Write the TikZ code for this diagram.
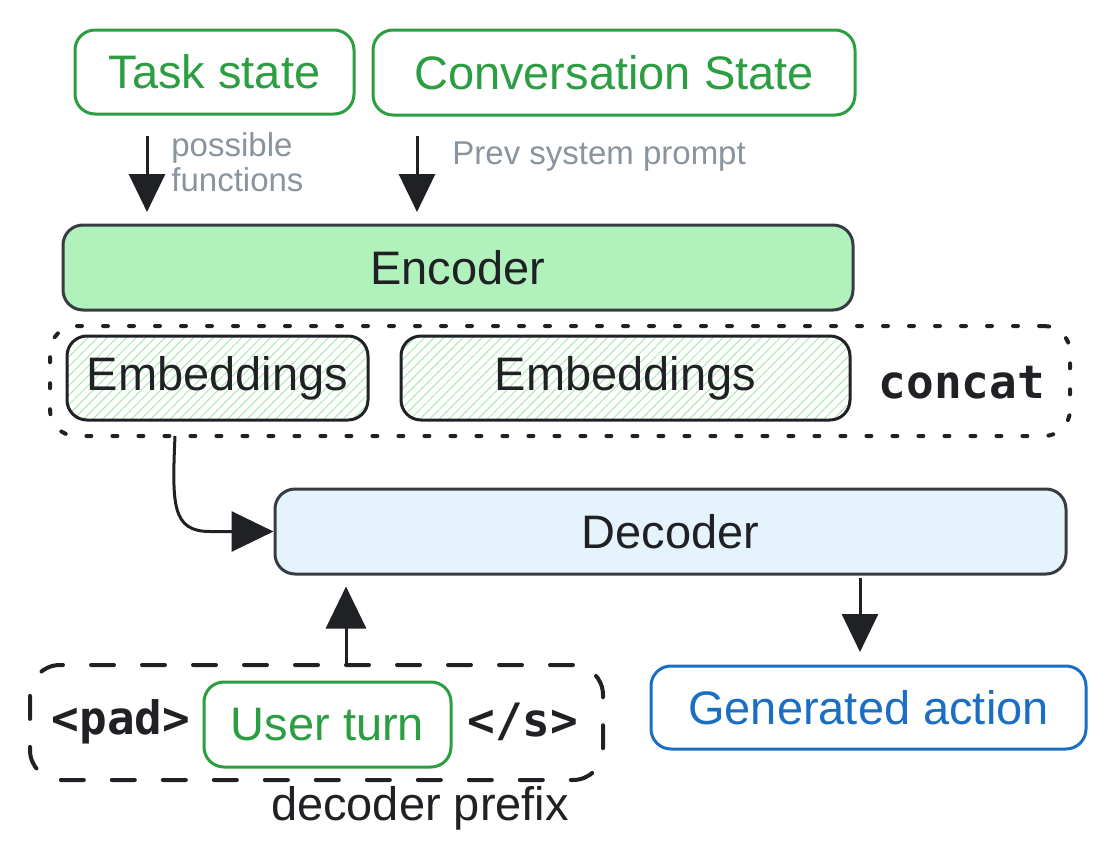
\documentclass[tikz,border=0pt]{standalone}
\usepackage{fontspec}
\setmainfont{Liberation Sans}
\newfontfamily\monob{DejaVu Sans Mono}
\usetikzlibrary{arrows.meta,patterns.meta}
\definecolor{tsgreen}{RGB}{44,158,66}
\definecolor{lblgray}{RGB}{138,148,158}
\definecolor{genblue}{RGB}{26,111,194}
\definecolor{encfill}{RGB}{177,241,188}
\definecolor{decfill}{RGB}{229,243,253}
\definecolor{hatchgreen}{RGB}{170,232,178}
\definecolor{boxstroke}{RGB}{55,60,66}
\definecolor{inkdark}{RGB}{32,33,36}
\tikzset{
  bigtxt/.style={font=\fontsize{23.5}{28}\selectfont},
  rbox/.style={rounded corners=10pt, line width=1.5pt, inner sep=0pt, bigtxt},
  greenbox/.style={rbox, draw=tsgreen, text=tsgreen},
  darkbox/.style={rbox, draw=boxstroke, text=inkdark},
  embbox/.style={rbox, draw=inkdark, text=inkdark,
    pattern={Lines[angle=45,distance=3.4pt,line width=0.5pt]}, pattern color=hatchgreen},
  arr/.style={line width=1.5pt, draw=inkdark, -{Triangle[width=18pt,length=19pt]}},
  bigarr/.style={line width=1.5pt, draw=inkdark, -{Triangle[width=20pt,length=21pt]}},
  monotxt/.style={font=\monob\bfseries\fontsize{23}{28}\selectfont, text=inkdark},
  smalllbl/.style={font=\fontsize{16.5}{17.5}\selectfont, text=lblgray, align=left, inner sep=0pt},
}
\begin{document}
\begin{tikzpicture}[x=0.5pt,y=-0.5pt]
\useasboundingbox (0,0) rectangle (1116,868);
% top inputs
\node[greenbox, minimum width=139.5pt, minimum height=42pt] (task) at (214.5,72) {Task state};
\node[greenbox, minimum width=241pt, minimum height=42.5pt] (conv) at (614,72.5) {Conversation State};
% encoder
\node[darkbox, fill=encfill, minimum width=395pt, minimum height=42.5pt] (enc) at (458,267.5) {Encoder};
% concat group
\node[draw=inkdark, line width=2pt, line cap=round, dash pattern=on 2.5pt off 10.5pt,
      rounded corners=13pt, minimum width=510pt, minimum height=55pt] (concat) at (560,381) {};
\node[embbox, minimum width=150.5pt, minimum height=42pt] (emb1) at (217.5,378) {Embeddings};
\node[embbox, minimum width=224.5pt, minimum height=42pt] (emb2) at (625.5,378) {Embeddings};
\node[monotxt] (concatlbl) at (962,383) {concat};
% decoder
\node[darkbox, fill=decfill, minimum width=395.5pt, minimum height=42.5pt] (dec) at (670.5,531.5) {Decoder};
% generated action
\node[rbox, draw=genblue, text=genblue, minimum width=217.5pt, minimum height=41.5pt] (gen) at (868.5,707.5) {Generated action};
% decoder prefix
\node[draw=inkdark, line width=2pt, line cap=round, dash pattern=on 11.5pt off 14pt,
      rounded corners=15pt, minimum width=286.5pt, minimum height=57.5pt] (prefix) at (316.5,722.5) {};
\node[greenbox, minimum width=123.5pt, minimum height=42.5pt] (user) at (327.5,724.5) {User turn};
\node[monotxt] (pad) at (121,722) {<pad>};
\node[monotxt] (eos) at (523,722) {</s>};
\node[bigtxt, text=inkdark, inner sep=0pt] (preflbl) at (420,808) {decoder prefix};
% labels
\node[smalllbl, anchor=north west] (possible) at (171,132) {possible\\functions};
\node[smalllbl, anchor=west] (prev) at (452,157) {Prev system prompt};
% arrows
\coordinate (a1s) at (147,136);
\coordinate (a1e) at (147,212);
\coordinate (a2s) at (417,136);
\coordinate (a2e) at (417,212);
\draw[arr] (a1s) -- (a1e);
\draw[arr] (a2s) -- (a2e);
\coordinate (cs) at (175,436);
\draw[bigarr] (cs) .. controls (172,505) and (172,531.5) .. (210,531.5) -- (dec.west);
\coordinate (ups) at (346,665);
\draw[bigarr, shorten >=5.5pt] (ups) -- (ups |- dec.south);
\coordinate (dns) at (860,578);
\coordinate (dne) at (860,652);
\draw[arr] (dns) -- (dne);
\end{tikzpicture}
\end{document}
